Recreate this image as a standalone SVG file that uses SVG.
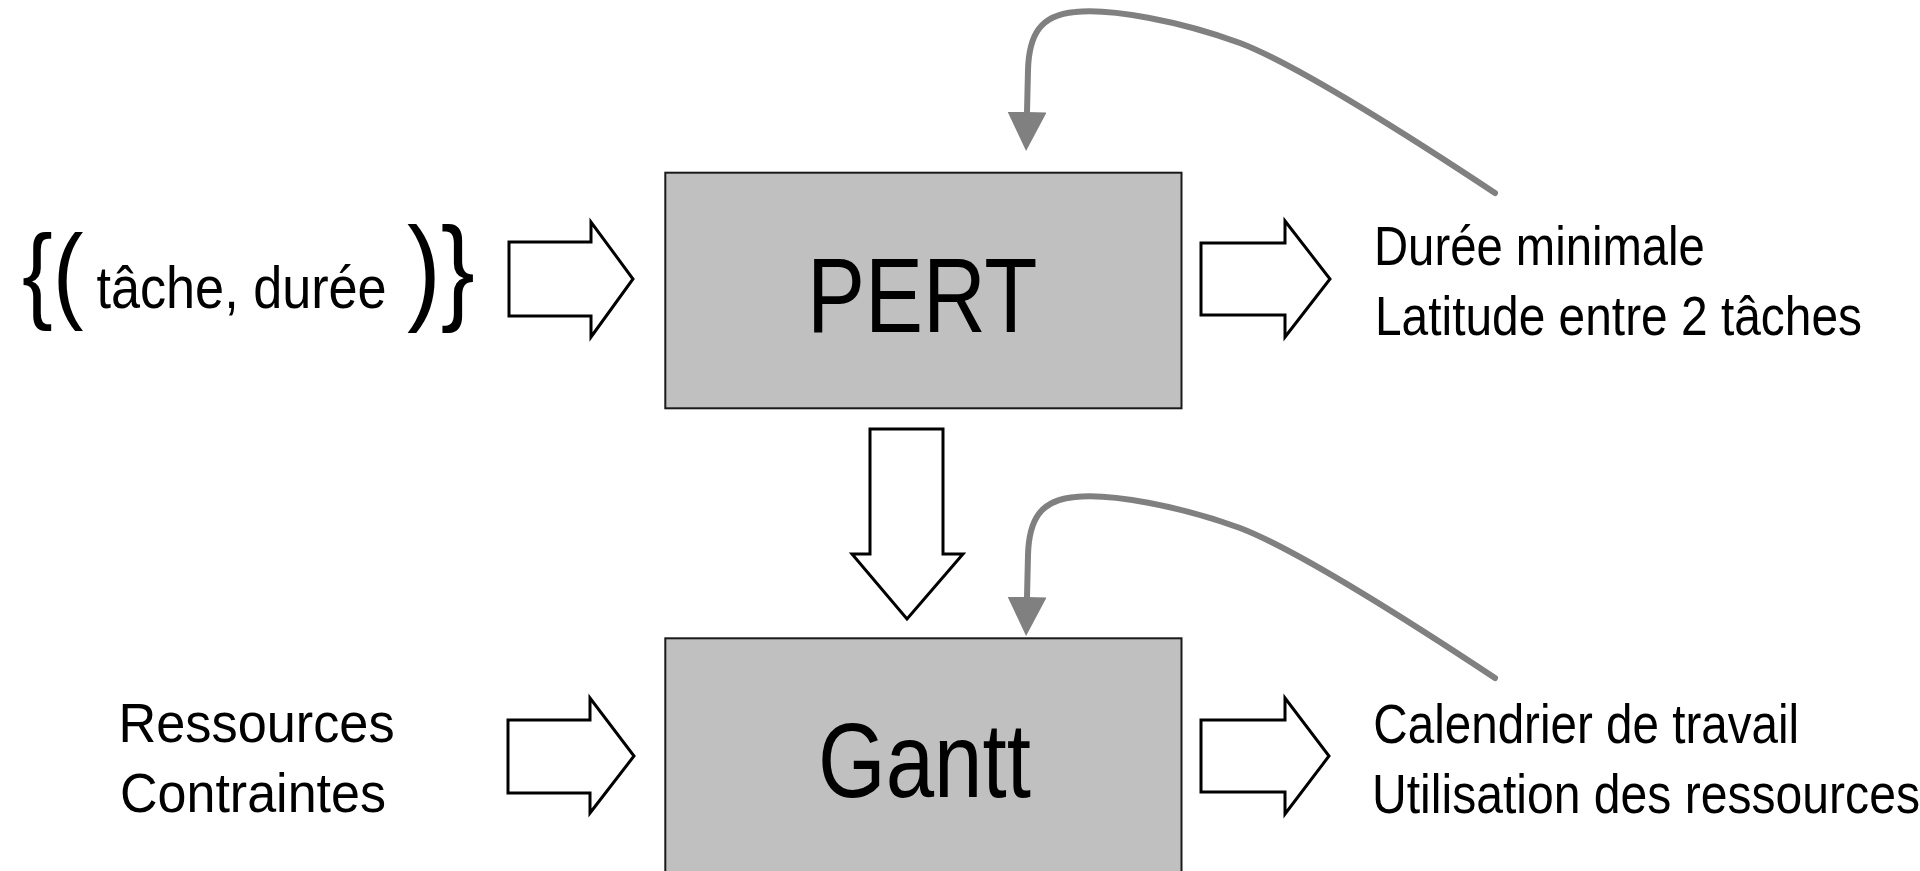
<svg xmlns="http://www.w3.org/2000/svg" width="1920" height="871" viewBox="0 0 1920 871">
<defs>
<style>
text{font-family:"Liberation Sans",Arial,sans-serif;fill:#000}
.box{fill:#c0c0c0;stroke:#1a1a1a;stroke-width:2}
.big{font-size:106px}
.lbl{font-size:56px}
.block{fill:#fff;stroke:#000;stroke-width:3;stroke-linejoin:miter}
.loop{fill:none;stroke:#808080;stroke-width:6;stroke-linecap:round;marker-end:url(#head)}
</style>
<marker id="head" viewBox="0 0 39 39" markerWidth="39" markerHeight="39" markerUnits="userSpaceOnUse" refX="0" refY="19.5" orient="auto">
<path d="M0,0 L39,19.5 L0,39 z" fill="#808080"/>
</marker>
</defs>
<rect width="1920" height="871" fill="#fff"/>

<g id="pert">
<rect class="box" x="665.3" y="172.7" width="516.2" height="235.6"/>
<text class="big" transform="translate(807,331.7) scale(0.821,1)">PERT</text>
</g>

<g id="gantt">
<rect class="box" x="665.3" y="638.3" width="516.2" height="260"/>
<text class="big" transform="translate(818,796.7) scale(0.821,1)">Gantt</text>
</g>

<g id="input-tasks">
<text transform="scale(0.87,1)" y="309"><tspan x="25.3" style="font-size:106px">{(</tspan><tspan x="110.9" y="308.3" style="font-size:60px">tâche, durée</tspan><tspan x="467.8" y="308.7" style="font-size:117px">)}</tspan></text>
</g>

<g id="input-resources">
<text class="lbl" transform="translate(118.5,741.7) scale(0.934,1)">Ressources</text>
<text class="lbl" transform="translate(120,811.7) scale(0.929,1)">Contraintes</text>
</g>

<g id="output-pert">
<text class="lbl" transform="translate(1374,265) scale(0.844,1)">Durée minimale</text>
<text class="lbl" transform="translate(1375,335) scale(0.855,1)">Latitude entre 2 tâches</text>
</g>

<g id="output-gantt">
<text class="lbl" transform="translate(1373.3,742.5) scale(0.85,1)">Calendrier de travail</text>
<text class="lbl" transform="translate(1372,812.5) scale(0.859,1)">Utilisation des ressources</text>
</g>

<g id="connectors">
<polygon class="block" points="509,242 591,242 591,222 633,279 591,337 591,316 509,316"/>
<polygon class="block" points="1201,243 1285,243 1285,221 1330,279 1285,337 1285,315 1201,315"/>
<polygon class="block" points="870,429 943,429 943,554 963,554 907,619 852,554 870,554"/>
<polygon class="block" points="508,720 590,720 590,698 634,756 590,813 590,793 508,793"/>
<polygon class="block" points="1201,720 1285,720 1285,698 1329,756 1285,814 1285,792 1201,792"/>
<path class="loop" d="M1495,193 C1430,150 1300,66 1240,43 C1180,21 1110,8 1075,12 C1040,15 1029,35 1028,70 L1027,112"/>
<path class="loop" d="M1495,678 C1430,635 1300,551 1240,528 C1180,506 1110,493 1075,497 C1040,500 1029,520 1028,555 L1027,597"/>
</g>
</svg>
